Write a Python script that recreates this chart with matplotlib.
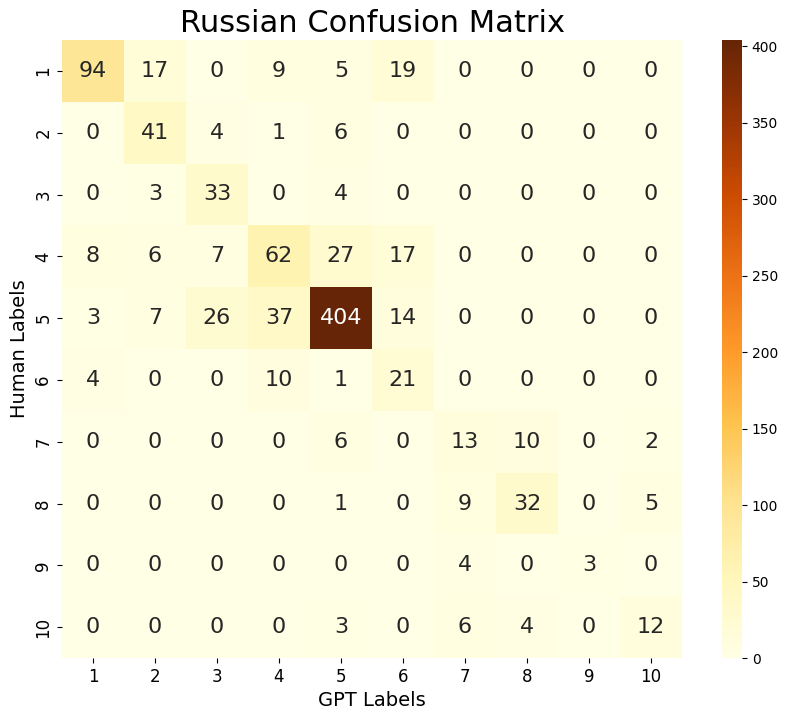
import matplotlib
matplotlib.use("Agg")
import matplotlib.pyplot as plt
import seaborn as sns
import numpy as np

labels = [str(i) for i in range(1, 11)]
row1 = [94, 17, 0, 9, 5, 19, 0, 0, 0, 0]
row2 = [0, 41, 4, 1, 6, 0, 0, 0, 0, 0]
row3 = [0, 3, 33, 0, 4, 0, 0, 0, 0, 0]
row4 = [8, 6, 7, 62, 27, 17, 0, 0, 0, 0]
row5 = [3, 7, 26, 37, 404, 14, 0, 0, 0, 0]
row6 = [4, 0, 0, 10, 1, 21, 0, 0, 0, 0]
row7 = [0, 0, 0, 0, 6, 0, 13, 10, 0, 2]
row8 = [0, 0, 0, 0, 1, 0, 9, 32, 0, 5]
row9 = [0, 0, 0, 0, 0, 0, 4, 0, 3, 0]
row10 = [0, 0, 0, 0, 3, 0, 6, 4, 0, 12]
cm = np.array([row1, row2, row3, row4, row5, row6, row7, row8, row9, row10])

fig = plt.figure(figsize=(7.97, 7.19), dpi=100)
ax = fig.add_axes([62/797, 1 - 658/719, 620/797, 618/719])
cax = fig.add_axes([722/797, 1 - 658/719, 20/797, 618/719])
sns.heatmap(cm, annot=True, fmt="d", cmap="YlOrBr", ax=ax, cbar_ax=cax,
            xticklabels=labels, yticklabels=labels, annot_kws={"fontsize": 16})
ax.set_title("Russian Confusion Matrix", fontsize=22)
ax.set_xlabel("GPT Labels", fontsize=14)
ax.set_ylabel("Human Labels", fontsize=14)
ax.tick_params(labelsize=12)
cax.tick_params(labelsize=10)
fig.savefig("out.png", dpi=100)
